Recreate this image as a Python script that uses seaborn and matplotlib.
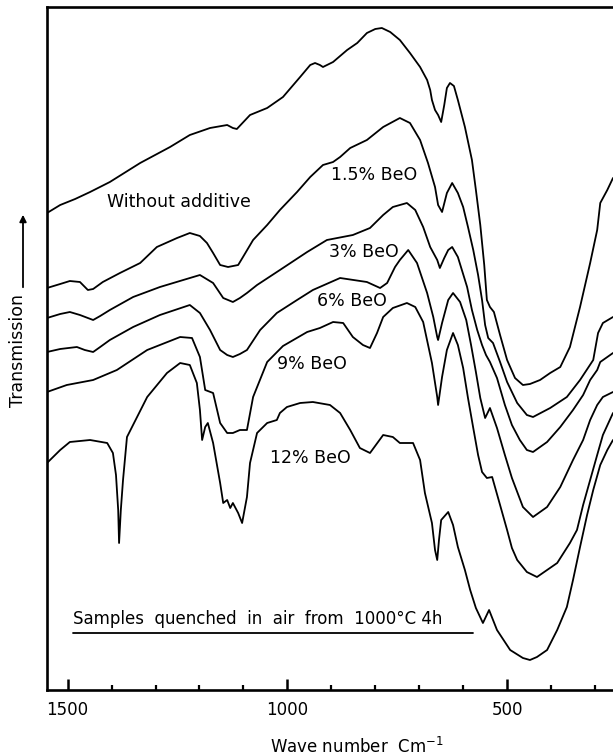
import matplotlib
matplotlib.use("Agg")
import matplotlib.pyplot as plt
import seaborn as sns

# ---------------- data ----------------
# wavenumber (cm-1) and transmission (arbitrary units, 0 = bottom frame)
wn_c1 = [1547, 1517, 1483, 1449, 1404, 1335, 1267, 1222, 1176, 1137, 1124, 1115, 1085, 1046, 1010, 971, 948, 937, 926, 919,
         896, 864, 841, 819, 800, 785, 766, 744, 721, 698, 682, 675, 671, 664, 657, 650, 643, 637, 630, 621,
         612, 596, 580, 571, 561, 552, 546, 539, 530, 516, 500, 482, 464, 448, 425, 402, 379, 357, 334, 311,
         295, 288, 272, 259]
t_c1 = [477, 485, 491, 498, 508, 527, 543, 555, 562, 565, 562, 561, 575, 582, 593, 613, 625, 627, 625, 623,
        628, 640, 647, 657, 661, 662, 658, 650, 637, 623, 610, 600, 590, 580, 575, 568, 585, 602, 607, 604,
        590, 563, 530, 500, 465, 425, 390, 383, 378, 355, 330, 312, 305, 306, 310, 317, 323, 343, 383, 427,
        460, 487, 500, 512]

wn_c2 = [1547, 1517, 1495, 1472, 1454, 1442, 1420, 1381, 1335, 1297, 1251, 1222, 1199, 1183, 1169, 1153, 1135, 1112, 1101, 1078,
         1046, 1017, 978, 948, 919, 896, 880, 857, 819, 782, 744, 721, 698, 680, 664, 657, 648, 637, 625, 612,
         600, 589, 577, 566, 557, 550, 543, 532, 516, 500, 477, 455, 441, 402, 364, 334, 304, 293, 282, 259]
t_c2 = [402, 406, 409, 408, 400, 401, 408, 417, 427, 443, 452, 457, 454, 447, 437, 425, 423, 425, 433, 450,
        465, 480, 498, 513, 525, 528, 533, 542, 550, 563, 572, 567, 550, 527, 503, 485, 478, 497, 507, 497,
        483, 463, 440, 415, 390, 365, 352, 347, 328, 308, 287, 275, 273, 282, 293, 310, 330, 357, 367, 373]

wn_c3 = [1547, 1517, 1495, 1472, 1442, 1426, 1404, 1351, 1290, 1237, 1199, 1169, 1146, 1124, 1108, 1092, 1069, 1017, 955, 910,
         851, 812, 782, 760, 728, 709, 691, 675, 659, 653, 643, 634, 625, 612, 591, 580, 568, 557, 548, 539,
         523, 505, 489, 471, 455, 441, 409, 379, 350, 327, 311, 295, 288, 259]
t_c3 = [372, 376, 378, 375, 370, 374, 380, 393, 403, 410, 415, 407, 392, 388, 392, 397, 405, 420, 438, 450,
        455, 462, 475, 483, 487, 480, 463, 443, 430, 422, 432, 440, 443, 433, 403, 380, 360, 345, 335, 328,
        312, 285, 265, 250, 240, 238, 248, 263, 280, 295, 310, 320, 328, 337]

wn_c4 = [1547, 1517, 1479, 1461, 1442, 1426, 1404, 1351, 1290, 1256, 1222, 1199, 1176, 1153, 1137, 1124, 1108, 1092, 1062, 1024,
         978, 942, 880, 819, 789, 773, 755, 744, 725, 705, 682, 668, 659, 657, 648, 634, 623, 607, 593, 582,
         571, 561, 550, 539, 523, 505, 489, 464, 441, 409, 379, 350, 327, 311, 295, 282, 259]
t_c4 = [338, 341, 343, 340, 338, 343, 350, 363, 375, 380, 385, 377, 360, 340, 335, 333, 336, 340, 360, 377,
        390, 400, 412, 408, 402, 407, 423, 430, 440, 427, 397, 373, 353, 350, 367, 390, 397, 388, 370, 345,
        318, 292, 272, 282, 262, 235, 212, 183, 173, 183, 203, 230, 250, 270, 285, 293, 298]

wn_c5 = [1547, 1502, 1442, 1388, 1319, 1244, 1217, 1199, 1187, 1169, 1153, 1137, 1124, 1108, 1092, 1078, 1046, 1010, 955, 926,
         896, 873, 851, 828, 812, 796, 782, 760, 728, 709, 691, 671, 659, 657, 648, 637, 623, 612, 600, 589,
         577, 566, 557, 546, 534, 516, 500, 489, 477, 455, 432, 409, 386, 357, 341, 327, 311, 295, 282, 259]
t_c5 = [298, 305, 310, 320, 340, 353, 352, 333, 300, 297, 267, 257, 257, 260, 260, 293, 328, 344, 358, 362,
        368, 367, 353, 345, 342, 357, 373, 382, 387, 383, 368, 327, 293, 285, 313, 340, 357, 345, 322, 292,
        262, 235, 218, 212, 213, 185, 160, 142, 130, 118, 113, 120, 127, 147, 160, 185, 210, 235, 255, 277]

wn_c6 = [1547, 1517, 1495, 1449, 1410, 1397, 1390, 1385, 1383, 1379, 1374, 1365, 1342, 1319, 1274, 1244, 1222, 1206, 1199, 1194,
         1187, 1181, 1169, 1153, 1146, 1137, 1130, 1124, 1112, 1103, 1092, 1085, 1069, 1046, 1024, 1017, 1001, 971, 942, 903,
         880, 857, 835, 812, 782, 760, 744, 714, 698, 687, 671, 664, 659, 655, 650, 634, 623, 612, 596, 584,
         571, 555, 541, 532, 523, 493, 464, 448, 432, 409, 386, 364, 350, 334, 318, 304, 288, 272, 259]
t_c6 = [227, 240, 248, 250, 247, 237, 215, 180, 147, 180, 210, 253, 273, 293, 317, 327, 325, 307, 280, 250,
        263, 267, 247, 207, 187, 190, 182, 187, 177, 167, 193, 227, 257, 267, 270, 277, 283, 287, 288, 285,
        277, 260, 242, 237, 255, 253, 247, 247, 230, 197, 167, 140, 130, 150, 170, 178, 165, 143, 120, 100,
        82, 67, 80, 70, 60, 40, 32, 30, 33, 40, 60, 83, 110, 143, 175, 200, 225, 240, 250]

curve_labels = ["Without additive", "1.5% BeO", "3% BeO", "6% BeO", "9% BeO", "12% BeO"]
label_wn = [1247, 803, 826, 853, 944, 948]
label_t = [488, 515, 438, 389, 326, 232]

major_ticks = [1500, 1000, 500]
minor_ticks = [1400, 1300, 1200, 1100, 900, 800, 700, 600, 400, 300]
note_text = "Samples  quenched  in  air  from  1000°C 4h"

# ---------------- figure ----------------
sns.set_theme(style="ticks")
plt.rcParams['font.family'] = ['DejaVu Sans']
plt.rcParams['text.color'] = 'black'
plt.rcParams['xtick.color'] = 'black'

W, H = 613, 756
fig = plt.figure(figsize=(W / 100, H / 100), dpi=100)
ax = fig.add_axes([47 / W, (H - 690) / H, (W - 47) / W, (690 - 7) / H])

curves = [(wn_c1, t_c1), (wn_c2, t_c2), (wn_c3, t_c3), (wn_c4, t_c4), (wn_c5, t_c5), (wn_c6, t_c6)]
for wn, t in curves:
    assert len(wn) == len(t)
    sns.lineplot(x=wn, y=t, sort=False, estimator=None, color='black', linewidth=1.3, ax=ax)

ax.set_xlim(1547, 259)
ax.set_ylim(0, 683)

for name in ['left', 'bottom', 'top']:
    ax.spines[name].set_linewidth(1.9)
    ax.spines[name].set_color('black')
ax.spines['right'].set_visible(False)

ax.set_xticks(major_ticks)
ax.set_xticklabels([str(v) for v in major_ticks])
ax.set_xticks(minor_ticks, minor=True)
ax.tick_params(axis='x', which='major', direction='in', length=8, width=1.8,
               labelsize=12, pad=8, bottom=True, top=False, colors='black')
ax.tick_params(axis='x', which='minor', direction='in', length=3.5, width=1.6,
               bottom=True, top=False)
ax.set_yticks([])
ax.tick_params(axis='y', left=False, right=False)
ax.set_xlabel('')
ax.set_ylabel('')

for txt, xw, yt in zip(curve_labels, label_wn, label_t):
    ax.text(xw, yt, txt, fontsize=12.5, ha='center', va='center', color='black')

ax.text(1488, 71, note_text, fontsize=12, ha='left', va='center', color='black')
ax.plot([1488, 577], [57, 57], color='black', linewidth=1.3)

# axis titles
fig.text(357 / W, 1 - 747 / H, r"Wave number  Cm$^{-1}$", fontsize=12, ha='center', va='center')
fig.text(18 / W, 1 - 350 / H, "Transmission", fontsize=12.5, rotation=90, ha='center', va='center')
fig.add_artist(matplotlib.patches.FancyArrowPatch(
    (23 / W, 1 - 290 / H), (23 / W, 1 - 212 / H), transform=fig.transFigure,
    arrowstyle='-|>', mutation_scale=10, color='black', linewidth=1.3))

fig.savefig("out.png", dpi=100)
